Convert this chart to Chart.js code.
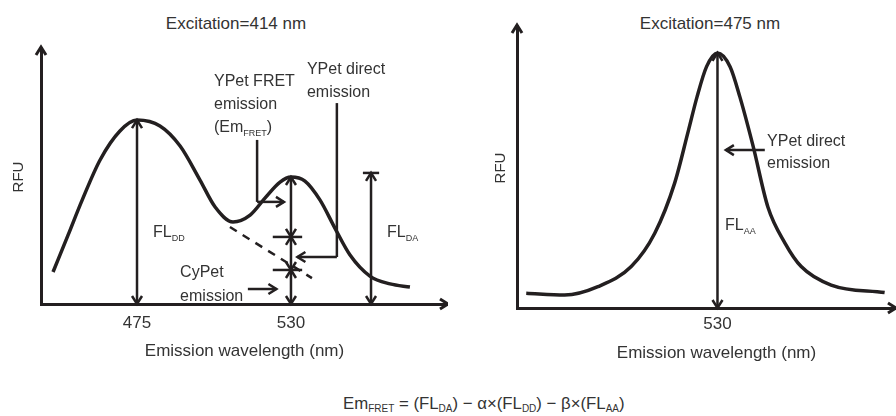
<!DOCTYPE html>
<html>
<head>
<meta charset="utf-8">
<script src="https://cdn.jsdelivr.net/npm/chart.js@4.4.1/dist/chart.umd.min.js"></script>
<style>
  html, body { margin: 0; padding: 0; background: #fff; overflow: hidden; width: 896px; height: 416px; }
  #wrap { position: relative; width: 896px; height: 416px; font-family: 'Liberation Sans', Arial, sans-serif; color: #333; }
  canvas { position: absolute; top: 0; }
  .title { position: absolute; top: 14px; font-size: 17px; white-space: nowrap; transform: translateX(-50%); }
  .formula { position: absolute; left: 343px; top: 394px; font-size: 16.8px; white-space: nowrap; }
  sub { font-size: 10px; vertical-align: -3px; }
</style>
</head>
<body>
<div id="wrap">
  <div class="title" style="left:236px">Excitation=414 nm</div>
  <div class="title" style="left:710px">Excitation=475 nm</div>
  <canvas id="fretChart" width="448" height="370" style="left:0"></canvas>
  <canvas id="directChart" width="468" height="370" style="left:448px"></canvas>
  <div class="formula">Em<sub>FRET</sub> = (FL<sub>DA</sub>) − α×(FL<sub>DD</sub>) − β×(FL<sub>AA</sub>)</div>
</div>
<script>
// FRET spectra schematic

const INK = '#231f20';

// Excitation 414 nm: CyPet + YPet FRET emission
const fretTicks = [475, 530];
const fretWavelength = [445, 450.4, 455.4, 461.8, 468.9, 475, 483.2, 490.4, 497.5, 502.9, 509.3,
  515.4, 520.7, 526.1, 530, 535, 540.4, 545.7, 551.1, 558.2, 565.4, 572.5];
const fretRFU = [12.6, 27.2, 40.9, 56.7, 68.1, 72.4, 70.1, 62.2, 48.8, 38.2, 32.3,
  35, 41.7, 48, 50, 48.4, 40.9, 29.9, 19.3, 11, 7.9, 6.7];
// extrapolated CyPet tail (dashed)
const cypetTailWavelength = [508.2, 537.5];
const cypetTailRFU = [30.3, 10.2];

// Excitation 475 nm: YPet direct emission
const directTicks = [530];
const directWavelength = [461.7, 475.4, 487.3, 499.2, 507.6, 514.7, 519.5, 522.7, 526.1, 530,
  534.5, 538, 542.7, 548, 554.1, 559.9, 570.6, 589.7];
const directRFU = [5.3, 4.6, 7.6, 14.8, 26.7, 44.6, 62.9, 75.4, 86.2, 91.1,
  86.2, 75.4, 57.9, 36.1, 23.2, 14.8, 8.2, 5.5];

// annotation arrows [x1, y1, x2, y2, heads] in data units
const fretArrows = [
  [475, 72.4, 475, 0, 'both'],
  [530, 50, 530, 26.4, 'both'],
  [530, 26.4, 530, 13.4, 'both'],
  [530, 13.4, 530, 0, 'both'],
  [558.6, 51.6, 558.6, 0, 'both'],
  [517.9, 64.6, 517.9, 40.2, 'none'],
  [517.9, 40.2, 527.5, 40.2, 'end'],
  [546.4, 79.1, 546.4, 18.5, 'none'],
  [546.4, 18.5, 532.3, 18.5, 'end'],
  [514.6, 5.9, 524.8, 5.9, 'end']
];
// horizontal bars [xFrom, xTo, y]
const fretBars = [[523.5, 534, 26.4], [523.5, 534, 13.4], [555.7, 561.5, 51.6]];
const fretLabels = [
  ['YPet FRET', 502.5, 87.4], ['emission', 502.5, 78.7], ['(Em_{FRET})', 502.5, 69.3],
  ['YPet direct', 535.7, 92.1], ['emission', 535.7, 83.1],
  ['FL_{DD}', 480.7, 28.3], ['FL_{DA}', 564.3, 28],
  ['CyPet', 490.4, 12.2], ['emission', 490.4, 2.8]
];

const directArrows = [
  [530, 91.1, 530, 0, 'both'],
  [546.9, 56.4, 533.0, 56.4, 'end']
];
const directLabels = [
  ['YPet direct', 547.7, 59.3], ['emission', 547.7, 51.4], ['FL_{AA}', 532.7, 29.6]
];

function arrowHead(ctx, tx, ty, dx, dy) {
  const len = 8, half = 5;
  ctx.beginPath();
  ctx.moveTo(tx - dx * len - dy * half, ty - dy * len + dx * half);
  ctx.lineTo(tx, ty);
  ctx.lineTo(tx - dx * len + dy * half, ty - dy * len - dx * half);
  ctx.stroke();
}

function drawLabel(ctx, text, x, y) {
  const parts = text.split(/_\{([^}]*)\}/);
  let cx = x;
  parts.forEach((p, i) => {
    if (!p) return;
    ctx.font = i % 2 ? '9px "Liberation Sans", Arial' : '16px "Liberation Sans", Arial';
    ctx.fillText(p, cx, i % 2 ? y + 6 : y);
    cx += ctx.measureText(p).width;
  });
}

const schematic = {
  id: 'schematic',
  afterDatasetsDraw(chart, args, opts) {
    const {ctx, chartArea, scales: {x, y}} = chart;
    const px = v => x.getPixelForValue(v);
    const py = v => y.getPixelForValue(v);
    ctx.save();
    ctx.strokeStyle = INK;
    ctx.lineJoin = 'miter';
    // axis arrow tips
    ctx.lineWidth = 3;
    ctx.beginPath();
    ctx.moveTo(chartArea.left, chartArea.top);
    ctx.lineTo(chartArea.left, chartArea.top - 3);
    ctx.stroke();
    arrowHead(ctx, chartArea.left, chartArea.top - 3, 0, -1);
    arrowHead(ctx, px(opts.xArrowAt), chartArea.bottom, 1, 0);

    ctx.lineWidth = 2.5;
    opts.arrows.forEach(([x1, y1, x2, y2, heads]) => {
      const ax = px(x1), ay = py(y1), bx = px(x2), by = py(y2);
      const d = Math.hypot(bx - ax, by - ay), ux = (bx - ax) / d, uy = (by - ay) / d;
      ctx.beginPath();
      ctx.moveTo(ax, ay);
      ctx.lineTo(bx, by);
      ctx.stroke();
      if (heads === 'both' || heads === 'end') arrowHead(ctx, bx, by, ux, uy);
      if (heads === 'both' || heads === 'start') arrowHead(ctx, ax, ay, -ux, -uy);
    });
    (opts.bars || []).forEach(([xa, xb, yv]) => {
      ctx.beginPath();
      ctx.moveTo(px(xa), py(yv));
      ctx.lineTo(px(xb), py(yv));
      ctx.stroke();
    });
    ctx.fillStyle = '#333';
    ctx.textBaseline = 'middle';
    ctx.textAlign = 'left';
    opts.labels.forEach(([t, lx, ly]) => drawLabel(ctx, t, px(lx), py(ly)));
    ctx.restore();
  }
};

Chart.defaults.font.family = "'Liberation Sans', Arial, sans-serif";
Chart.defaults.font.size = 17;
Chart.defaults.color = '#333';

function xy(xs, ys) {
  return xs.map((v, i) => ({x: v, y: ys[i]}));
}

function createSpectrumChart(canvasId, datasets, s) {
  const ctx = document.getElementById(canvasId).getContext('2d');
  return new Chart(ctx, {
    type: 'line',
    data: {datasets: datasets},
    plugins: [schematic],
    options: {
      responsive: false,
      animation: false,
      devicePixelRatio: 1,
      layout: {padding: {top: s.top, left: s.left, right: 0, bottom: 0}},
      elements: {point: {radius: 0}},
      scales: {
        x: {
          type: 'linear',
          min: s.xMin,
          max: s.xMax,
          afterBuildTicks: sc => { sc.ticks = s.ticks.map(v => ({value: v})); },
          afterFit: sc => { sc.height = s.xHeight; },
          grid: {display: false, drawTicks: false},
          border: {display: true, width: 3, color: INK},
          ticks: {padding: s.tickPad, maxRotation: 0, autoSkip: false, callback: v => String(v)},
          title: {display: true, text: 'Emission wavelength (nm)', padding: {top: 0, bottom: s.titlePad}}
        },
        y: {
          min: 0,
          max: 100,
          afterFit: sc => { sc.width = s.yWidth; },
          grid: {display: false, drawTicks: false},
          border: {display: true, width: 3, color: INK},
          ticks: {display: false},
          title: {display: true, text: 'RFU', font: {size: 15}, padding: {top: 10, bottom: 0}}
        }
      },
      plugins: {
        legend: {display: false},
        tooltip: {enabled: false},
        schematic: {arrows: s.arrows, bars: s.bars, labels: s.labels, xArrowAt: s.xArrowAt}
      }
    }
  });
}

createSpectrumChart('fretChart', [
  {data: xy(fretWavelength, fretRFU), borderColor: INK, borderWidth: 3.5, cubicInterpolationMode: 'monotone'},
  {data: xy(cypetTailWavelength, cypetTailRFU), borderColor: INK, borderWidth: 2.5, borderDash: [8, 7]}
], {
  top: 50, left: 0, yWidth: 41, xHeight: 66, tickPad: 9, titlePad: 8,
  xMin: 440.7, xMax: 586.1, xArrowAt: 586.1, ticks: fretTicks,
  arrows: fretArrows, bars: fretBars, labels: fretLabels
});

createSpectrumChart('directChart', [
  {data: xy(directWavelength, directRFU), borderColor: INK, borderWidth: 3.5, cubicInterpolationMode: 'monotone'}
], {
  top: 28, left: 34, yWidth: 35, xHeight: 62, tickPad: 6, titlePad: 6,
  xMin: 458.4, xMax: 600.9, xArrowAt: 593.75, ticks: directTicks,
  arrows: directArrows, bars: [], labels: directLabels
});
</script>
</body>
</html>
